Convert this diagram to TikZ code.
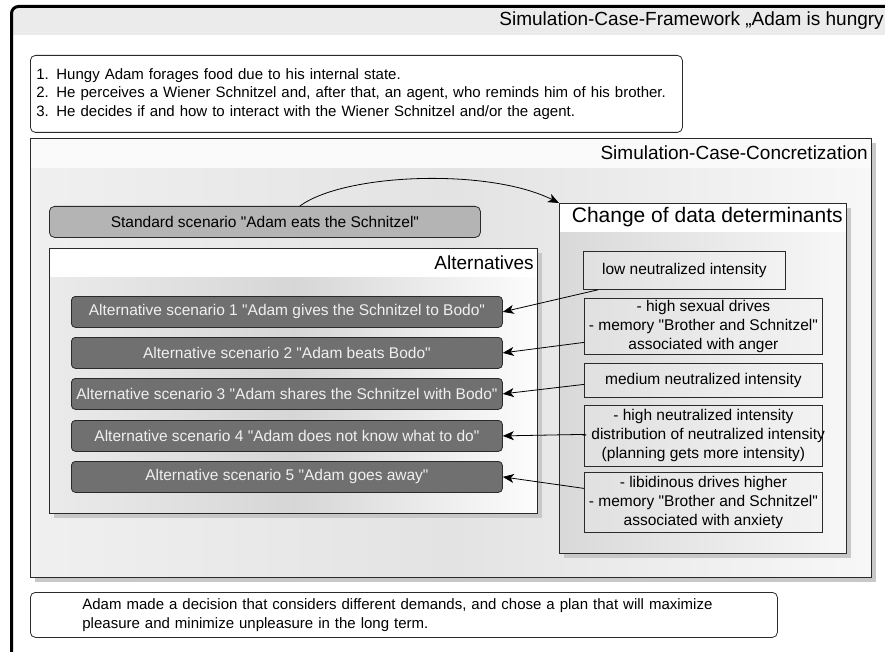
\documentclass[tikz,border=0pt]{standalone}
\usepackage{fontspec}
\setmainfont{Liberation Sans}[Ligatures=TeXOff]
\usetikzlibrary{arrows.meta,shadows,calc}
\definecolor{hdr}{HTML}{EBEBEB}
\definecolor{edge}{HTML}{2A2A2A}
\definecolor{altfill}{HTML}{707070}
\definecolor{stdfill}{HTML}{B4B4B4}
\definecolor{shd}{HTML}{C8C8C8}
\tikzset{
  fs/.style 2 args={font=\fontsize{#1}{#2}\selectfont},
  panel/.style={draw=edge, line width=0.9pt, inner sep=0pt,
    drop shadow={shadow xshift=5pt, shadow yshift=-5pt, fill=shd, opacity=1}},
  rbox/.style={draw=edge, line width=0.8pt, fill=white, rounded corners=5pt, inner sep=0pt},
  altbox/.style={draw=edge, line width=0.8pt, fill=altfill, rounded corners=4pt, inner sep=0pt,
    minimum width=431pt, minimum height=31pt, text=white!94!black, fs={15.5}{18}},
  detbox/.style={draw=edge, line width=0.8pt, left color=black!12, right color=black!5,
    inner sep=0pt, align=center, fs={15.5}{19}},
  arr/.style={line width=0.8pt, -{Stealth[length=11pt,width=9pt,inset=3pt]}},
}
\begin{document}
\begin{tikzpicture}[x=1pt,y=-1pt]
\clip (0,0) rectangle (885,652);
\fill[white] (0,0) rectangle (885,652);

% outer framework
\fill[hdr] (13,8) rectangle (886,35);
\draw[line width=3pt, rounded corners=7pt] (11.5,670) -- (11.5,6.5) -- (900,6.5);
\node[anchor=east, fs={19}{23}, inner sep=0pt] (fwtitle) at (884,21) {Simulation-Case-Framework „Adam is hungry};

% story box
\node[rbox, anchor=north west, minimum width=652pt, minimum height=77pt,
  text width=640pt, inner xsep=6pt, align=left, fs={15}{18.3}] (story) at (30,55)
  {1. Hungy Adam forages food due to his internal state.\\
   2. He perceives a Wiener Schnitzel and, after that, an agent, who reminds him of his brother.\\
   3. He decides if and how to interact with the Wiener Schnitzel and/or the agent.};

% concretization panel
\node[panel, anchor=north west, minimum width=841pt, minimum height=439pt,
  left color=black!6, right color=black!3, middle color=black!11,
  path picture={\fill[white!98!black] (path picture bounding box.north west) rectangle ([yshift=-30pt]path picture bounding box.north east);}]
  (conc) at (30,138) {};
\node[anchor=east, fs={19}{23}, inner sep=0pt] (conctitle) at ([xshift=-4pt,yshift=-15pt]conc.north east) {Simulation-Case-Concretization};

% standard scenario
\node[rbox, fill=stdfill, anchor=north west, minimum width=431pt, minimum height=31pt, fs={15.5}{18}] (std) at (49,206)
  {Standard scenario "Adam eats the Schnitzel"};

% change of data determinants panel
\node[panel, anchor=north west, minimum width=287pt, minimum height=350pt,
  left color=black!15, right color=black!3,
  path picture={\fill[white] (path picture bounding box.north west) rectangle ([yshift=-29pt]path picture bounding box.north east);}]
  (chg) at (559,203) {};
\node[anchor=east, fs={21}{25}, inner sep=0pt] (chgtitle) at ([xshift=-4pt,yshift=-14.5pt]chg.north east) {Change of data determinants};

% alternatives panel
\node[panel, anchor=north west, minimum width=488pt, minimum height=265pt,
  left color=black!8, right color=black!1, middle color=black!16,
  path picture={\fill[white] (path picture bounding box.north west) rectangle ([yshift=-29pt]path picture bounding box.north east);}]
  (alts) at (49,248) {};
\node[anchor=east, fs={19}{23}, inner sep=0pt] (altstitle) at ([xshift=-4pt,yshift=-15pt]alts.north east) {Alternatives};

% alternative scenarios
\node[altbox, anchor=north west] (alt1) at (71,296) {Alternative scenario 1 "Adam gives the Schnitzel to Bodo"};
\node[altbox, anchor=north west] (alt2) at (71,337) {Alternative scenario 2 "Adam beats Bodo"};
\node[altbox, anchor=north west] (alt3) at (71,378) {Alternative scenario 3 "Adam shares the Schnitzel with Bodo"};
\node[altbox, anchor=north west] (alt4) at (71,420) {Alternative scenario 4 "Adam does not know what to do"};
\node[altbox, anchor=north west] (alt5) at (71,461) {Alternative scenario 5 "Adam goes away"};

% determinant boxes
\node[detbox, anchor=north west, minimum width=202pt, minimum height=38pt] (low) at (583,251) {low neutralized intensity};
\node[detbox, anchor=north west, minimum width=238pt, minimum height=56pt] (hs) at (584,298)
  {- high sexual drives\\\makebox[236pt]{- memory "Brother and Schnitzel"}\\associated with anger};
\node[detbox, anchor=north west, minimum width=238pt, minimum height=34pt] (med) at (584,363) {medium neutralized intensity};
\node[detbox, anchor=north west, minimum width=238pt, minimum height=61pt] (hn) at (584,405)
  {- high neutralized intensity\\\makebox[236pt]{- distribution of neutralized intensity}\\(planning gets more intensity)};
\node[detbox, anchor=north west, minimum width=238pt, minimum height=60pt] (lib) at (584,472)
  {- libidinous drives higher\\\makebox[236pt]{- memory "Brother and Schnitzel"}\\associated with anxiety};

% arrows
\draw[arr] ($(std.north)+(35,0)$) .. controls +(45,-33) and +(-70,-35) .. (chg.north west);
\draw[arr] ($(low.south west)+(15,0)$) -- (alt1.east);
\draw[arr] ($(hs.west)+(0,16)$) -- (alt2.east);
\draw[arr] ($(med.west)+(0,4)$) -- (alt3.east);
\draw[arr] ($(hn.west)+(0,-1.5)$) -- (alt4.east);
\draw[arr] ($(lib.west)+(0,-14)$) -- (alt5.east);

% conclusion box
\node[rbox, anchor=north west, minimum width=747pt, minimum height=45pt,
  text width=727pt, inner xsep=10pt, align=left, fs={15}{19}] (concl) at (30,592)
  {\hspace*{42pt}Adam made a decision that considers different demands, and chose a plan that will maximize\\
   \hspace*{42pt}pleasure and minimize unpleasure in the long term.};
\end{tikzpicture}
\end{document}
